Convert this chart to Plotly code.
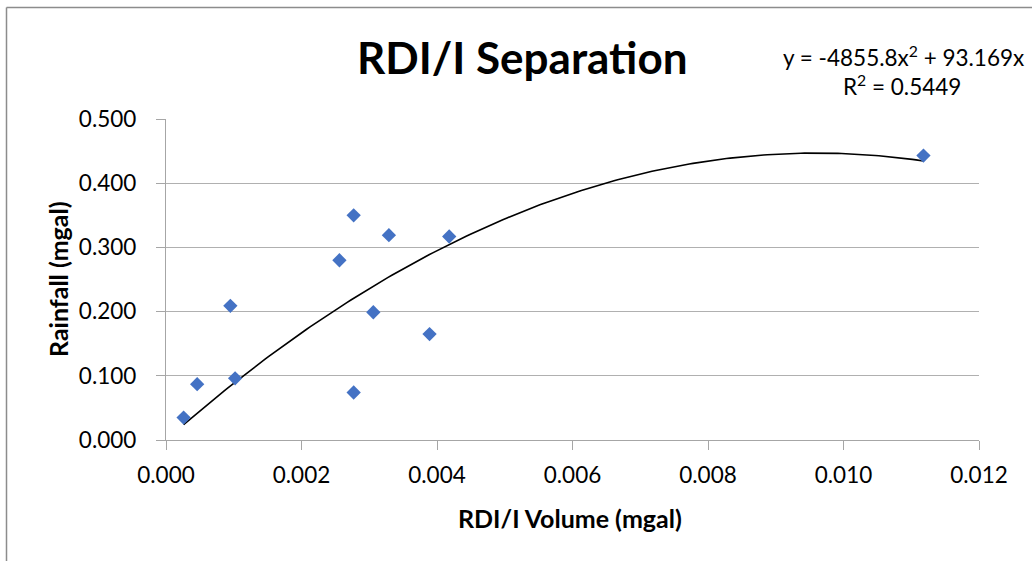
import numpy as np
import plotly.graph_objects as go

# Observed RDI/I volume vs rainfall (both in mgal)
rdi_volume = [0.00026, 0.00046, 0.00095, 0.00102, 0.00256, 0.00277,
              0.00277, 0.00306, 0.00329, 0.00389, 0.00418, 0.01118]
rainfall = [0.035, 0.087, 0.209, 0.096, 0.280, 0.350,
            0.074, 0.199, 0.319, 0.165, 0.317, 0.443]

# Second-order polynomial trendline (through origin) and its fit quality
trend_a = -4855.8
trend_b = 93.169
trend_r2 = 0.5449

x_ticks = [0.000, 0.002, 0.004, 0.006, 0.008, 0.010, 0.012]
y_ticks = [0.000, 0.100, 0.200, 0.300, 0.400, 0.500]

W, H = 1032, 561
L, R, T, B = 166, 53, 119, 121
PW, PH = W - L - R, H - T - B


def px(x):
    return (x - L) / PW


def py(y):
    return (H - B - y) / PH


FONT = "Lato, Carlito, Calibri, sans-serif"
GRID = "#b0b0b0"
AXIS = "#a6a6a6"

trend_x = np.linspace(min(rdi_volume), max(rdi_volume), 200)
trend_y = trend_a * trend_x ** 2 + trend_b * trend_x

fig = go.Figure()
fig.add_trace(go.Scatter(
    x=trend_x, y=trend_y, mode="lines",
    line=dict(color="black", width=1.6), hoverinfo="skip", showlegend=False,
))
fig.add_trace(go.Scatter(
    x=rdi_volume, y=rainfall, mode="markers",
    marker=dict(symbol="diamond", size=11, color="#4472C4", line=dict(width=0)),
    showlegend=False,
))

fig.update_layout(
    width=W, height=H,
    margin=dict(l=L, r=R, t=T, b=B, pad=0),
    paper_bgcolor="white", plot_bgcolor="white",
    font=dict(family=FONT, color="black"),
    xaxis=dict(
        range=[0, 0.012], tickvals=x_ticks, tickformat=".3f",
        showgrid=False, zeroline=False,
        showline=True, linecolor=AXIS, linewidth=1.3,
        ticks="outside", ticklen=9, tickwidth=1.3, tickcolor=AXIS,
        tickfont=dict(size=22.5, family=FONT), ticklabelstandoff=6,
    ),
    yaxis=dict(
        range=[0, 0.5], tickvals=y_ticks, tickformat=".3f",
        showgrid=True, gridcolor=GRID, gridwidth=1.3, zeroline=False,
        showline=True, linecolor=AXIS, linewidth=1.3,
        ticks="outside", ticklen=9, tickwidth=1.3, tickcolor=AXIS,
        tickfont=dict(size=22.5, family=FONT), ticklabelstandoff=15,
    ),
    annotations=[
        dict(text="<b>RDI/I Separation</b>", x=px(522), y=py(57),
             xref="paper", yref="paper", showarrow=False,
             xanchor="center", yanchor="middle",
             font=dict(size=44, family=FONT)),
        dict(text="y = -4855.8x<sup>2</sup> + 93.169x", x=px(903), y=py(56),
             xref="paper", yref="paper", showarrow=False,
             xanchor="center", yanchor="middle",
             font=dict(size=22.5, family=FONT)),
        dict(text="R<sup>2</sup> = %.4f" % trend_r2, x=px(902), y=py(85),
             xref="paper", yref="paper", showarrow=False,
             xanchor="center", yanchor="middle",
             font=dict(size=22.5, family=FONT)),
        dict(text="<b>RDI/I Volume (mgal)</b>", x=px(570), y=py(518),
             xref="paper", yref="paper", showarrow=False,
             xanchor="center", yanchor="middle",
             font=dict(size=25, family=FONT)),
        dict(text="<b>Rainfall (mgal)</b>", x=px(58), y=py(279),
             xref="paper", yref="paper", showarrow=False, textangle=-90,
             xanchor="center", yanchor="middle",
             font=dict(size=25, family=FONT)),
    ],
    shapes=[
        dict(type="line", xref="paper", yref="paper",
             x0=px(6.5), x1=px(W + 5), y0=py(7.5), y1=py(7.5),
             line=dict(color="#8c8c8c", width=1.5)),
        dict(type="line", xref="paper", yref="paper",
             x0=px(6.5), x1=px(6.5), y0=py(7.5), y1=py(H + 5),
             line=dict(color="#8c8c8c", width=1.5)),
    ],
)

fig.write_html("out.html")
